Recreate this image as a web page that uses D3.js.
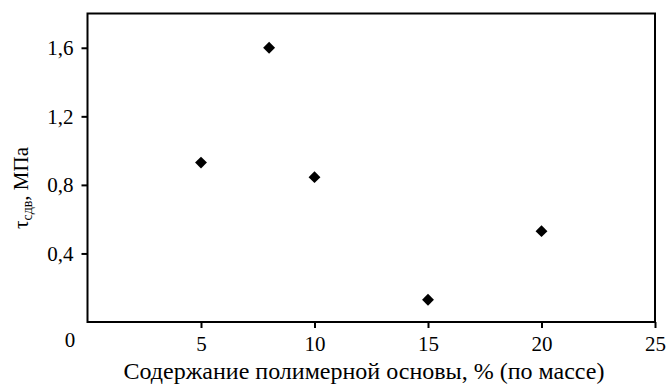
<!DOCTYPE html>
<html>
<head>
<meta charset="utf-8">
<script src="https://cdn.jsdelivr.net/npm/d3@7"></script>
<style>
    body { margin: 0; background: #fff; }
    svg text { font-family: "Liberation Serif", "DejaVu Serif", serif; fill: #000; }
</style>
</head>
<body>
<div id="main"></div>
<script>
const ctx = {
    w: 670,
    h: 387,
    left: 87.5,
    right: 655,
    top: 13.5,
    bottom: 322,
    FONT: "Liberation Serif, DejaVu Serif, serif",
};

// polymer base content, % (by mass)
const contents = [5, 8, 10, 15, 20];
// shear strength, MPa
const shear = [0.93, 1.60, 0.845, 0.13, 0.53];

const xTicks = [5, 10, 15, 20, 25];
const yTicks = [0.4, 0.8, 1.2, 1.6];

const xTitle = "Содержание полимерной основы, % (по массе)";

function createViz(){
    let svg = d3.select("#main").append("svg")
                .attr("width", ctx.w)
                .attr("height", ctx.h)
                .attr("font-family", ctx.FONT);

    let x = d3.scaleLinear().domain([0, 25]).range([ctx.left, ctx.right]);
    let y = d3.scaleLinear().domain([0, 1.8]).range([ctx.bottom, ctx.top]);

    // frame
    svg.append("rect")
       .attr("x", ctx.left)
       .attr("y", ctx.top)
       .attr("width", ctx.right - ctx.left)
       .attr("height", ctx.bottom - ctx.top)
       .attr("fill", "none")
       .attr("stroke", "#000")
       .attr("stroke-width", 2);

    let xAxis = d3.axisBottom(x).tickValues(xTicks).tickSize(6).tickPadding(8)
                  .tickFormat(d3.format("d"));
    let gx = svg.append("g")
                .attr("transform", `translate(0,${ctx.bottom})`)
                .call(xAxis);

    let yAxis = d3.axisLeft(y).tickValues(yTicks).tickSize(6).tickPadding(8)
                  .tickFormat((d) => d3.format(".1f")(d).replace(".", ","));
    let gy = svg.append("g")
                .attr("transform", `translate(${ctx.left},0)`)
                .call(yAxis);

    [gx, gy].forEach(function(g){
        g.attr("font-family", ctx.FONT);
        g.select(".domain").remove();
        g.selectAll(".tick line").attr("stroke", "#000").attr("stroke-width", 2);
        g.selectAll(".tick text")
         .attr("font-size", 21)
         .attr("fill", "#000");
    });

    // the lone zero sits below the corner
    svg.append("text")
       .attr("x", 70)
       .attr("y", 347)
       .attr("text-anchor", "middle")
       .attr("font-size", 21)
       .text("0");

    svg.append("g")
       .selectAll("path")
       .data(contents)
       .enter()
       .append("path")
       .attr("transform", (d, i) => `translate(${x(d)},${y(shear[i])})`)
       .attr("d", d3.symbol(d3.symbolDiamond2, 90))
       .attr("fill", "#000");

    svg.append("text")
       .attr("x", 364)
       .attr("y", 379)
       .attr("text-anchor", "middle")
       .attr("font-size", 24)
       .text(xTitle);

    let yt = svg.append("text")
                .attr("transform", "translate(28,188) rotate(-90)")
                .attr("text-anchor", "middle")
                .attr("font-size", 21);
    yt.append("tspan").text("τ");
    yt.append("tspan").attr("font-size", 14).attr("dy", 4).text("сдв");
    yt.append("tspan").attr("dy", -4).text(", МПа");
}

createViz();
</script>
</body>
</html>
